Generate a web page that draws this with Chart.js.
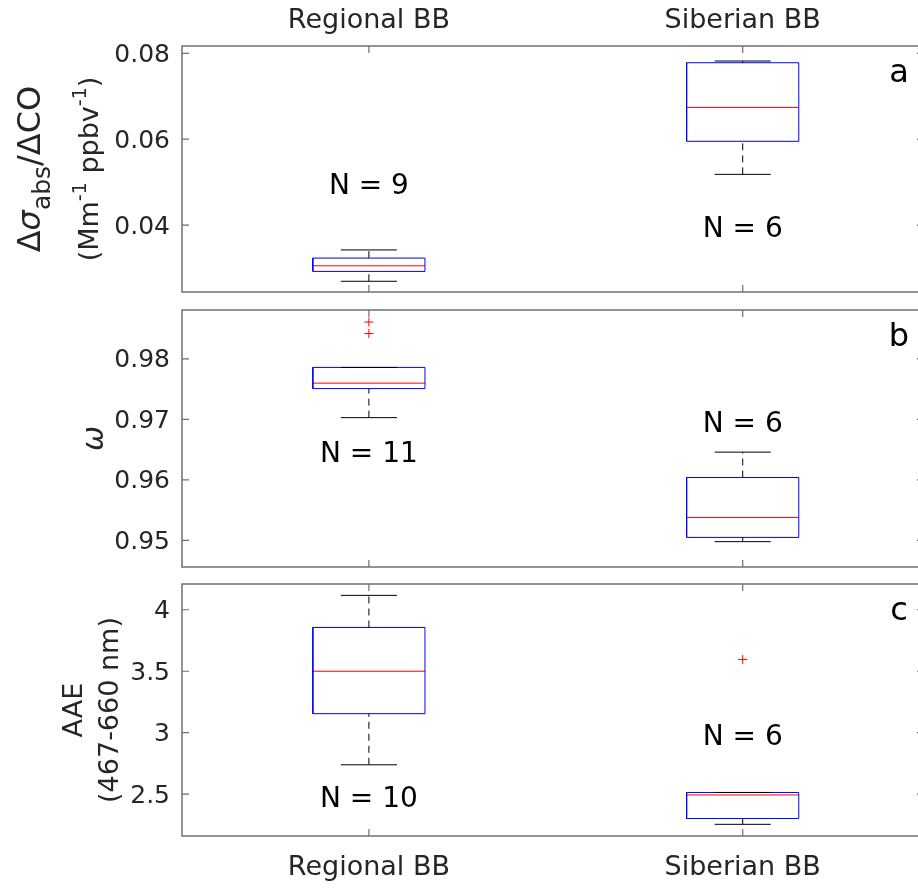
<!DOCTYPE html>
<html><head><meta charset="utf-8">
<script src="https://cdn.jsdelivr.net/npm/chart.js@4.4.1/dist/chart.umd.min.js"></script>
<style>
html,body{margin:0;padding:0;background:#fff;overflow:hidden;width:918px;height:888px;}
.p{position:absolute;left:0;width:960px;}
</style></head><body>
<div class="p" style="top:0;height:300px"><canvas id="ca"></canvas></div>
<div class="p" style="top:300px;height:277px"><canvas id="cb"></canvas></div>
<div class="p" style="top:577px;height:311px"><canvas id="cc"></canvas></div>
<script>
// ---------- data ----------
const categories = ['Regional BB', 'Siberian BB'];
const catPos = [1, 2];

// Panel a: Δσabs/ΔCO
const absLow  = [0.0269, 0.0518];
const absQ1   = [0.0292, 0.0595];
const absMed  = [0.0305, 0.0674];
const absQ3   = [0.0323, 0.0778];
const absHigh = [0.0342, 0.0782];
const absOutliers = [[], []];
const absN = [9, 6];
const absTicks = [0.04, 0.06, 0.08];
const absTickLabels = ['0.04', '0.06', '0.08'];

// Panel b: ω
const ssaLow  = [0.9703, 0.9498];
const ssaQ1   = [0.9751, 0.9505];
const ssaMed  = [0.9760, 0.9538];
const ssaQ3   = [0.9786, 0.9604];
const ssaHigh = [0.9786, 0.9646];
const ssaOutliers = [[0.9861, 0.9842], []];
const ssaN = [11, 6];
const ssaTicks = [0.95, 0.96, 0.97, 0.98];
const ssaTickLabels = ['0.95', '0.96', '0.97', '0.98'];

// Panel c: AAE
const aaeLow  = [2.739, 2.255];
const aaeQ1   = [3.155, 2.302];
const aaeMed  = [3.500, 2.494];
const aaeQ3   = [3.856, 2.514];
const aaeHigh = [4.117, 2.514];
const aaeOutliers = [[], [3.595]];
const aaeN = [10, 6];
const aaeTicks = [2.5, 3, 3.5, 4];
const aaeTickLabels = ['2.5', '3', '3.5', '4'];

// ---------- layout / annotation settings ----------
const absLimits = [0.0244, 0.0817];
const ssaLimits = [0.94561, 0.98809];
const aaeLimits = [2.160, 4.2095];
const absNLabelY = [0.0496, 0.0395];
const ssaNLabelY = [0.96465, 0.96967];
const aaeNLabelY = [2.482, 2.987];
const X_MIN = 0.5, X_MAX = 2.485;
const BOX_HALF = 0.15, CAP_HALF = 0.075;
const FONT = '"DejaVu Sans", sans-serif';
const AXIS_GRAY = '#707070';
const TEXT = '#262626';

function boxDatasets(low, q1, med, q3, high, outl) {
  const box = [], medn = [], wh = [], caps = [], out = [];
  catPos.forEach((x, i) => {
    box.push({x: x - BOX_HALF, y: q1[i]}, {x: x + BOX_HALF, y: q1[i]}, {x: x + BOX_HALF, y: q3[i]},
             {x: x - BOX_HALF, y: q3[i]}, {x: x - BOX_HALF, y: q1[i]}, {x: x + 0.5, y: null});
    medn.push({x: x - BOX_HALF, y: med[i]}, {x: x + BOX_HALF, y: med[i]}, {x: x + 0.5, y: null});
    wh.push({x: x, y: q3[i]}, {x: x, y: high[i]}, {x: x + 0.01, y: null},
            {x: x, y: low[i]}, {x: x, y: q1[i]}, {x: x + 0.5, y: null});
    caps.push({x: x - CAP_HALF, y: high[i]}, {x: x + CAP_HALF, y: high[i]}, {x: x + 0.01, y: null},
              {x: x - CAP_HALF, y: low[i]}, {x: x + CAP_HALF, y: low[i]}, {x: x + 0.5, y: null});
    outl[i].forEach(v => out.push({x: x, y: v}));
  });
  const line = {type: 'line', showLine: true, pointRadius: 0, spanGaps: false, tension: 0, fill: false};
  return [
    Object.assign({}, line, {label: 'whisker', data: wh, borderColor: '#000', borderWidth: 1, borderDash: [7, 5]}),
    Object.assign({}, line, {label: 'cap', data: caps, borderColor: '#000', borderWidth: 1}),
    Object.assign({}, line, {label: 'box', data: box, borderColor: '#0000ff', borderWidth: 1}),
    Object.assign({}, line, {label: 'median', data: medn, borderColor: '#ff0000', borderWidth: 1}),
    {type: 'scatter', label: 'outlier', data: out, showLine: false, pointStyle: 'cross', pointRadius: 4.5,
     borderColor: '#ff0000', backgroundColor: '#ff0000', borderWidth: 1, pointRotation: 0}
  ];
}

function drawRich(ctx, segs, x, y, size, subRatio) {
  ctx.save();
  ctx.translate(x, y);
  ctx.rotate(-Math.PI / 2);
  ctx.textAlign = 'left';
  ctx.textBaseline = 'alphabetic';
  ctx.fillStyle = TEXT;
  const fontOf = s => (s.it ? 'italic ' : '') + ((s.sub || s.sup) ? Math.round(size * subRatio) : size) + 'px ' + FONT;
  let total = 0;
  segs.forEach(s => { ctx.font = fontOf(s); s.w = ctx.measureText(s.t).width; total += s.w; });
  let cx = -total / 2;
  segs.forEach(s => {
    ctx.font = fontOf(s);
    const dy = s.sub ? size * 0.32 : (s.sup ? -size * 0.45 : 0);
    ctx.fillText(s.t, cx, dy);
    cx += s.w;
  });
  ctx.restore();
}

function decoPlugin(cfg) {
  return {
    id: 'deco',
    afterDraw(chart) {
      const {ctx, chartArea: a, scales} = chart;
      const xs = scales.x, ys = scales.y;
      ctx.save();
      // frame
      ctx.strokeStyle = AXIS_GRAY;
      ctx.lineWidth = 1.5;
      ctx.strokeRect(a.left, a.top, a.right - a.left, a.bottom - a.top);
      // inward ticks
      ctx.lineWidth = 1.2;
      ctx.beginPath();
      catPos.forEach(v => {
        const px = xs.getPixelForValue(v);
        ctx.moveTo(px, a.top); ctx.lineTo(px, a.top + 7);
        ctx.moveTo(px, a.bottom); ctx.lineTo(px, a.bottom - 7);
      });
      cfg.ticks.forEach(v => {
        const py = ys.getPixelForValue(v);
        ctx.moveTo(a.left, py); ctx.lineTo(a.left + 7, py);
        ctx.moveTo(a.right, py); ctx.lineTo(a.right - 7, py);
      });
      ctx.stroke();
      // N labels
      ctx.fillStyle = '#000';
      ctx.font = '28px ' + FONT;
      ctx.textAlign = 'center';
      ctx.textBaseline = 'alphabetic';
      cfg.n.forEach((n, i) => {
        const px = xs.getPixelForValue(catPos[i]);
        const py = ys.getPixelForValue(cfg.nY[i]) + 28 * 0.365;
        ctx.fillText('N = ' + n, px, py);
      });
      // panel letter
      ctx.font = '32px ' + FONT;
      ctx.fillText(cfg.letter, a.right - 25, a.top + 36);
      // y titles
      const cy = (a.top + a.bottom) / 2;
      cfg.titles.forEach(t => drawRich(ctx, t.segs, t.x, cy, t.size, t.subRatio || 0.72));
      ctx.restore();
    }
  };
}

function noPad(s) { s.paddingTop = 0; s.paddingBottom = 0; s.paddingLeft = 0; s.paddingRight = 0; }

function makeChart(id, cfg) {
  const xScale = {
    type: 'linear', min: X_MIN, max: X_MAX, position: cfg.xPos || 'bottom',
    display: !!cfg.xPos,
    grid: {display: false, drawTicks: false}, border: {display: false},
    afterBuildTicks: s => { s.ticks = catPos.map(v => ({value: v})); },
    afterFit: s => { s.height = cfg.xHeight || 0; noPad(s); },
    ticks: {
      autoSkip: false, maxRotation: 0, padding: cfg.xPad || 0, color: TEXT,
      font: {family: FONT, size: 27},
      callback: v => categories[catPos.indexOf(v)]
    }
  };
  const yScale = {
    type: 'linear', min: cfg.limits[0], max: cfg.limits[1],
    grid: {display: false, drawTicks: false}, border: {display: false},
    afterBuildTicks: s => { s.ticks = cfg.ticks.map(v => ({value: v})); },
    afterFit: s => { s.width = 182; noPad(s); },
    ticks: {
      padding: 12, color: TEXT, labelOffset: 2,
      font: {family: FONT, size: 25},
      callback: v => cfg.tickLabels[cfg.ticks.indexOf(v)]
    }
  };
  return new Chart(document.getElementById(id), {
    type: 'line',
    data: {datasets: boxDatasets(cfg.low, cfg.q1, cfg.med, cfg.q3, cfg.high, cfg.outl)},
    options: {
      responsive: true, maintainAspectRatio: false, animation: false,
      layout: {padding: cfg.padding, autoPadding: false},
      plugins: {legend: {display: false}, tooltip: {enabled: false}},
      scales: {x: xScale, y: yScale}
    },
    plugins: [decoPlugin(cfg)]
  });
}

makeChart('ca', {
  low: absLow, q1: absQ1, med: absMed, q3: absQ3, high: absHigh, outl: absOutliers,
  limits: absLimits, ticks: absTicks, tickLabels: absTickLabels, n: absN, nY: absNLabelY,
  letter: 'a', xPos: 'top', xHeight: 46, xPad: 9,
  padding: {left: 0, right: 36, top: 0, bottom: 8},
  titles: [
    {x: 40, size: 32, subRatio: 0.78, segs: [{t: 'Δ'}, {t: 'σ', it: true}, {t: 'abs', sub: true}, {t: '/ΔCO'}]},
    {x: 98, size: 27, segs: [{t: '(Mm'}, {t: '-1', sup: true}, {t: ' ppbv'}, {t: '-1', sup: true}, {t: ')'}]}
  ]
});
makeChart('cb', {
  low: ssaLow, q1: ssaQ1, med: ssaMed, q3: ssaQ3, high: ssaHigh, outl: ssaOutliers,
  limits: ssaLimits, ticks: ssaTicks, tickLabels: ssaTickLabels, n: ssaN, nY: ssaNLabelY,
  letter: 'b',
  padding: {left: 0, right: 36, top: 10, bottom: 10},
  titles: [{x: 103, size: 30, segs: [{t: 'ω', it: true}]}]
});
makeChart('cc', {
  low: aaeLow, q1: aaeQ1, med: aaeMed, q3: aaeQ3, high: aaeHigh, outl: aaeOutliers,
  limits: aaeLimits, ticks: aaeTicks, tickLabels: aaeTickLabels, n: aaeN, nY: aaeNLabelY,
  letter: 'c', xPos: 'bottom', xHeight: 52, xPad: 16,
  padding: {left: 0, right: 36, top: 7, bottom: 0},
  titles: [
    {x: 82, size: 27, segs: [{t: 'AAE'}]},
    {x: 118, size: 27, segs: [{t: '(467-660 nm)'}]}
  ]
});
</script>
</body></html>
